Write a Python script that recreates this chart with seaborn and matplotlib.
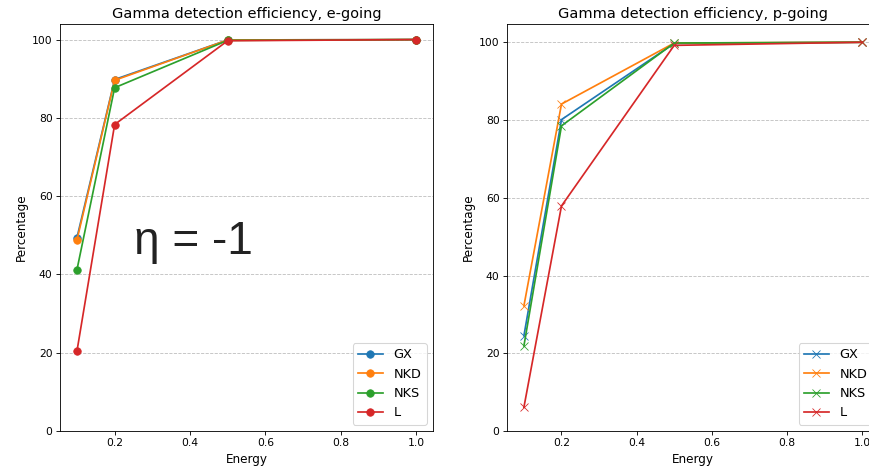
import matplotlib
matplotlib.use("Agg")
import matplotlib.pyplot as plt
import seaborn as sns
import pandas as pd

# Photon energies (GeV) at which the efficiency was evaluated
energy = [0.1, 0.2, 0.5, 1.0]
detectors = ["GX", "NKD", "NKS", "L"]

# Detection efficiency (%) for the electron-going side
e_going = {
    "GX":  [49.4, 89.8, 99.9, 100.0],
    "NKD": [48.8, 89.6, 99.9, 100.0],
    "NKS": [41.2, 87.7, 99.8, 100.0],
    "L":   [20.4, 78.3, 99.7, 100.0],
}

# Detection efficiency (%) for the proton-going side
p_going = {
    "GX":  [24.5, 80.1, 99.7, 100.0],
    "NKD": [32.2, 84.1, 99.8, 100.0],
    "NKS": [21.9, 78.5, 99.8, 100.0],
    "L":   [6.1, 57.9, 99.2, 100.0],
}

colors = ["#1f77b4", "#ff7f0e", "#2ca02c", "#d62728"]

DPI = 77
fig = plt.figure(figsize=(869 / DPI, 471 / DPI), dpi=DPI)
W, H = 869.0, 471.0
ax_e = fig.add_axes([60 / W, (H - 431) / H, 373 / W, 407 / H])
ax_p = fig.add_axes([507 / W, (H - 431) / H, 372 / W, 407 / H])


def draw(ax, table, marker, title):
    for name, col in zip(detectors, colors):
        df = pd.DataFrame({"Energy": energy, "Percentage": table[name]})
        sns.lineplot(data=df, x="Energy", y="Percentage", ax=ax, color=col,
                     marker=marker, markersize=7, linewidth=1.6,
                     markeredgecolor=col, label=name)
    ax.set_ylim(0, None)
    ax.set_title(title, fontsize=13.5)
    ax.set_xlabel("Energy", fontsize=11.2)
    ax.set_ylabel("Percentage", fontsize=11.2)
    ax.tick_params(labelsize=10)
    ax.yaxis.grid(True, linestyle="--", color="#b0b0b0", alpha=0.8)
    ax.xaxis.grid(False)
    ax.legend(loc="lower right", fontsize=12)


draw(ax_e, e_going, "o", "Gamma detection efficiency, e-going")
draw(ax_p, p_going, "x", "Gamma detection efficiency, p-going")

ax_e.text(0.41, 48.3, "η = -1", ha="center", va="center", fontsize=43,
          family=["Liberation Sans", "DejaVu Sans"], color="#222222")

fig.savefig("out.png", dpi=DPI)
